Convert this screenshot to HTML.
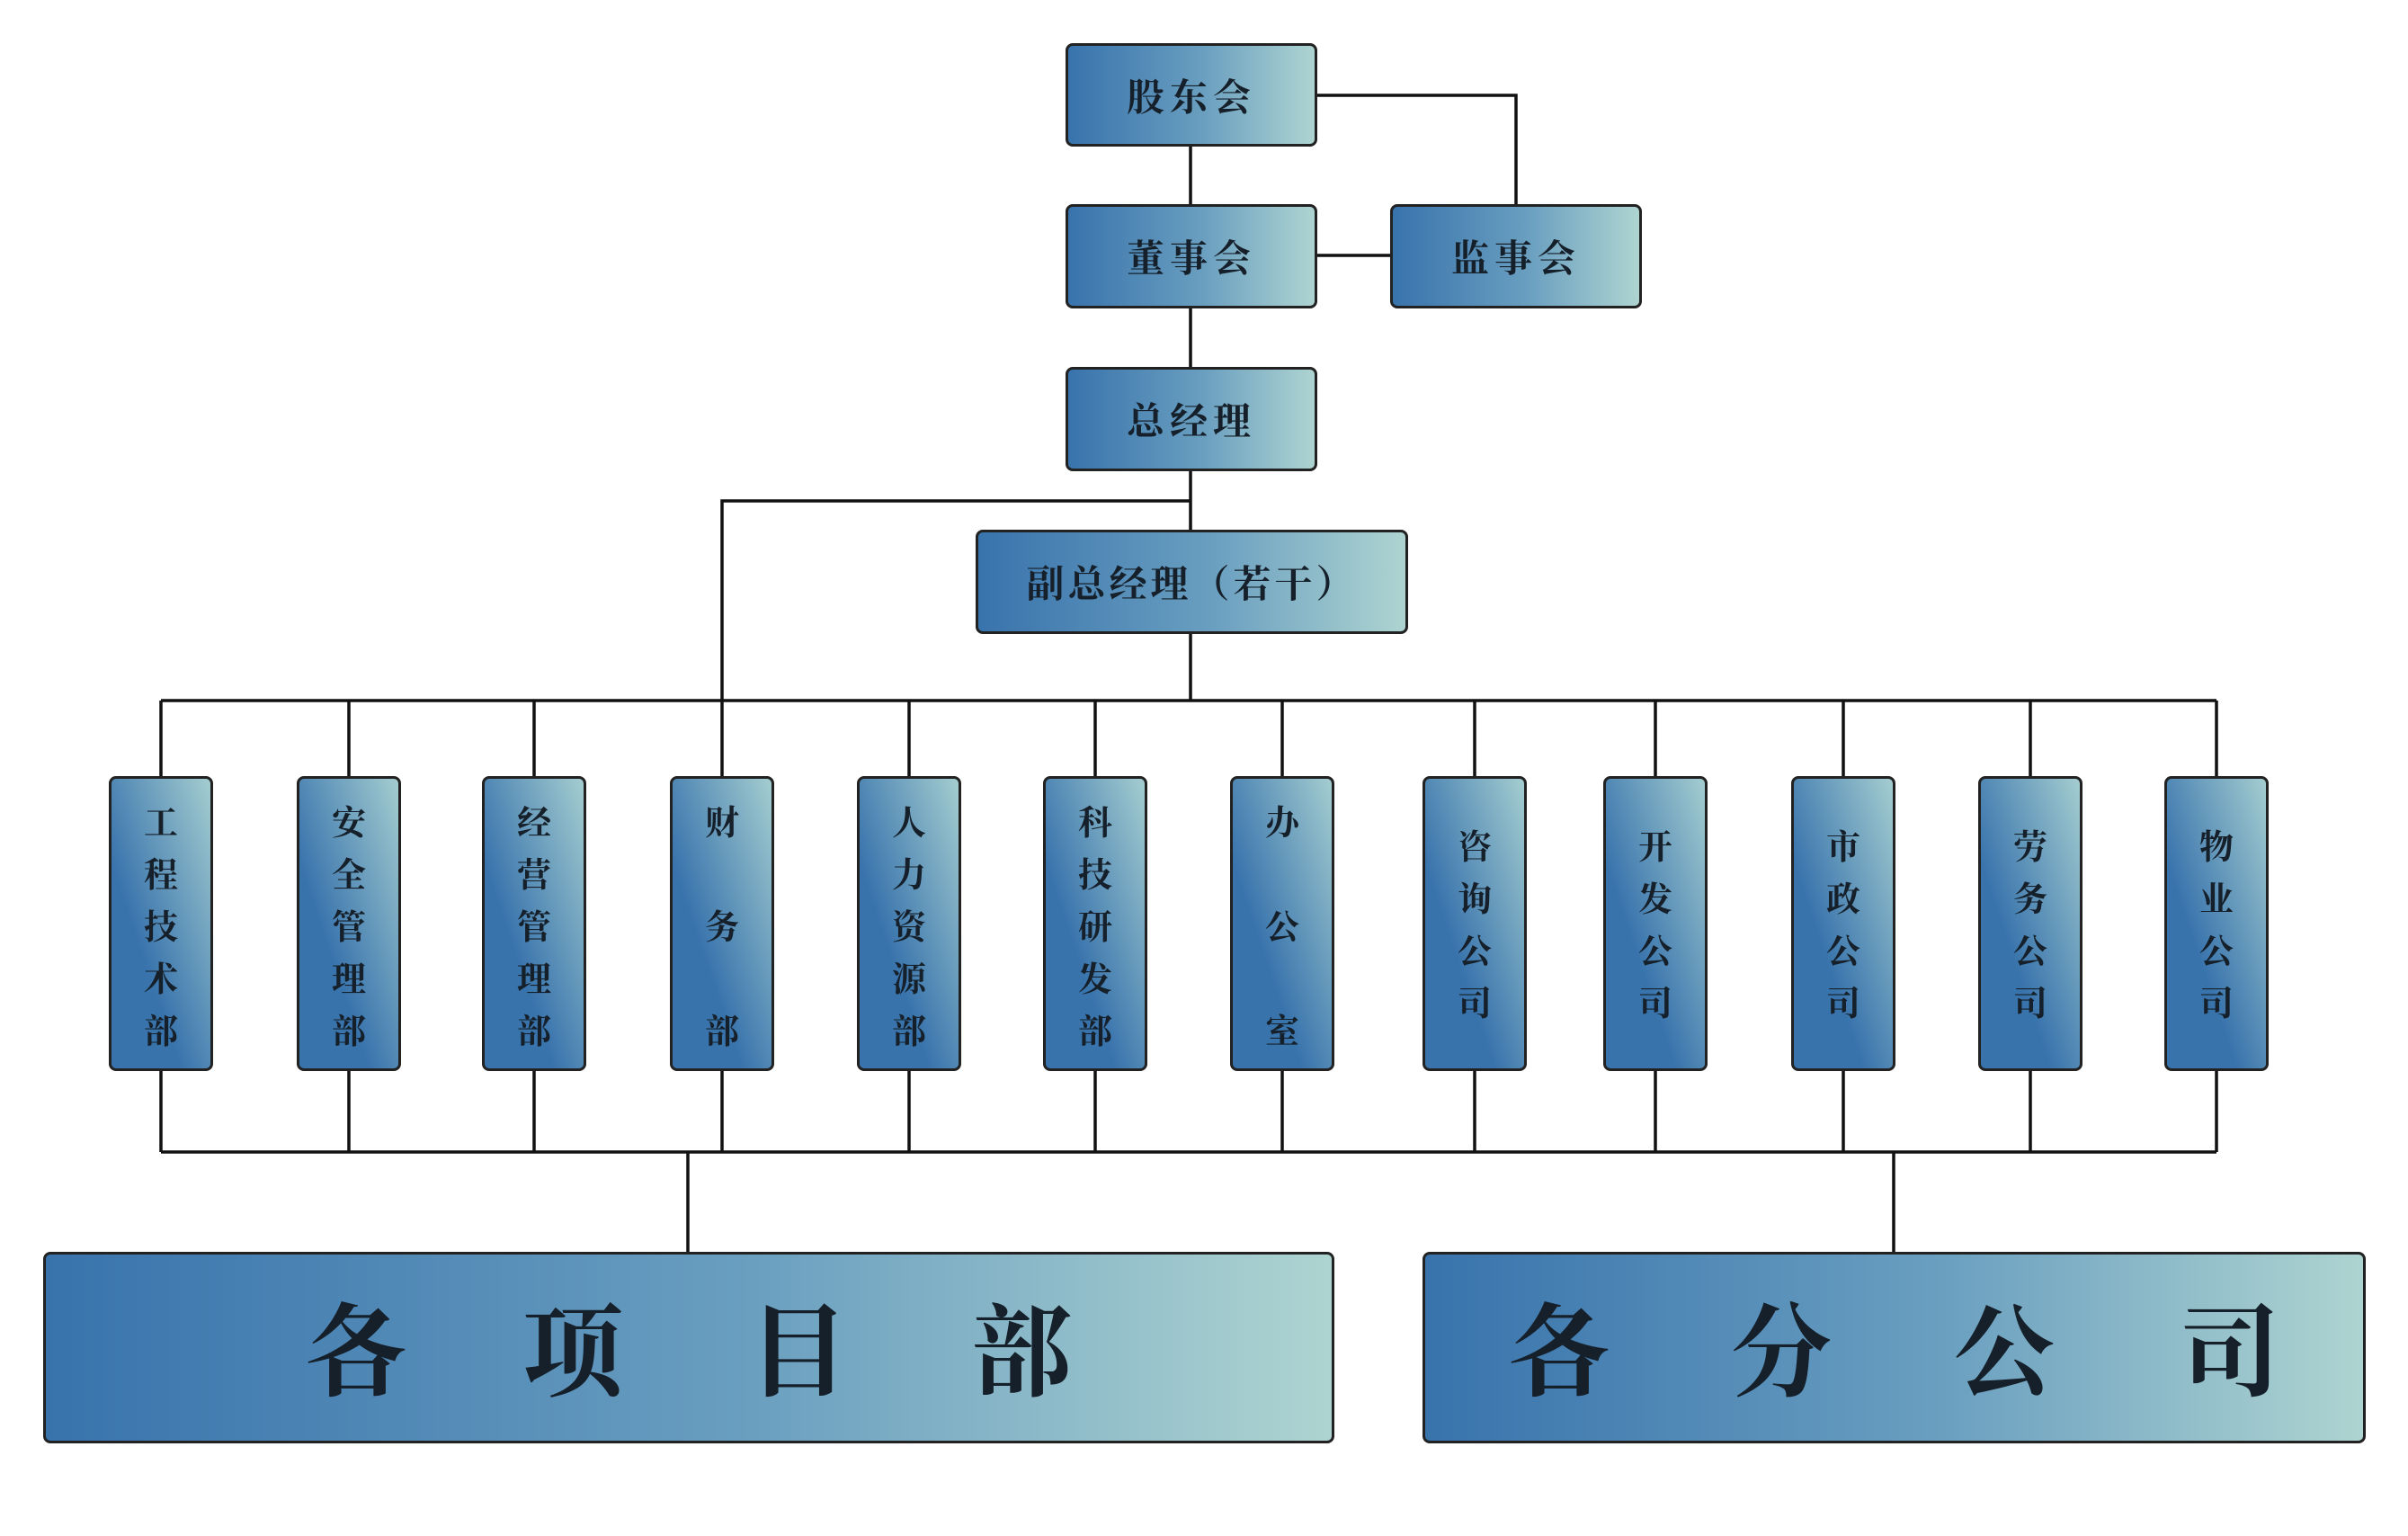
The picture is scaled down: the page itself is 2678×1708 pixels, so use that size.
<!DOCTYPE html>
<html><head><meta charset="utf-8"><style>
body{margin:0;width:2678px;height:1708px;background:#fff;position:relative;overflow:hidden;font-family:"Liberation Serif","Noto Serif CJK SC",serif;}
.b{position:absolute;box-sizing:border-box;border:3px solid #222;border-radius:8px;background:linear-gradient(to right,#3873ac,#6a9fc0 55%,#aed4d1);color:#16202a;font-weight:bold;display:flex;align-items:center;justify-content:center;}
.t{font-size:42px;letter-spacing:6px;}
.d{position:absolute;box-sizing:border-box;border:3px solid #222;border-radius:8px;background:linear-gradient(to top right,#3873ac 35%,#a4cdd0);width:116px;height:328px;top:863px;}
.c{position:absolute;left:0;width:110px;text-align:center;font-size:38px;font-weight:bold;color:#16202a;line-height:44px;margin-top:-8px;}
.big{position:absolute;font-size:112px;font-weight:bold;color:#16202a;line-height:120px;top:1446px !important;}
</style></head><body>
<svg width="2678" height="1708" style="position:absolute;left:0;top:0" fill="none" stroke="#111" stroke-width="3.5">
<path d="M1324 162V227M1324 342V408M1324 523V589M1464 106H1686V227M1464 284H1546M1324 557H803V779M1324 704V779M179 779H2465"/>
<path d="M179 779V863M388 779V863M594 779V863M803 779V863M1011 779V863M1218 779V863M1426 779V863M1640 779V863M1841 779V863M2050 779V863M2258 779V863M2465 779V863"/>
<path d="M179 1190V1281M388 1190V1281M594 1190V1281M803 1190V1281M1011 1190V1281M1218 1190V1281M1426 1190V1281M1640 1190V1281M1841 1190V1281M2050 1190V1281M2258 1190V1281M2465 1190V1281M179 1281H2465M765 1281V1392M2106 1281V1392"/>
</svg>
<div class="b t" style="left:1185px;top:48px;width:280px;height:115px">股东会</div>
<div class="b t" style="left:1185px;top:227px;width:280px;height:116px">董事会</div>
<div class="b t" style="left:1546px;top:227px;width:280px;height:116px">监事会</div>
<div class="b t" style="left:1185px;top:408px;width:280px;height:116px">总经理</div>
<div class="b t" style="left:1085px;top:589px;width:481px;height:116px;letter-spacing:4px">副总经理（若干）</div>

<div class="d" style="left:121px"><div class="c" style="top:36px">工</div><div class="c" style="top:94px">程</div><div class="c" style="top:152px">技</div><div class="c" style="top:210px">术</div><div class="c" style="top:268px">部</div></div>
<div class="d" style="left:330px"><div class="c" style="top:36px">安</div><div class="c" style="top:94px">全</div><div class="c" style="top:152px">管</div><div class="c" style="top:210px">理</div><div class="c" style="top:268px">部</div></div>
<div class="d" style="left:536px"><div class="c" style="top:36px">经</div><div class="c" style="top:94px">营</div><div class="c" style="top:152px">管</div><div class="c" style="top:210px">理</div><div class="c" style="top:268px">部</div></div>
<div class="d" style="left:745px"><div class="c" style="top:36px">财</div><div class="c" style="top:152px">务</div><div class="c" style="top:268px">部</div></div>
<div class="d" style="left:953px"><div class="c" style="top:36px">人</div><div class="c" style="top:94px">力</div><div class="c" style="top:152px">资</div><div class="c" style="top:210px">源</div><div class="c" style="top:268px">部</div></div>
<div class="d" style="left:1160px"><div class="c" style="top:36px">科</div><div class="c" style="top:94px">技</div><div class="c" style="top:152px">研</div><div class="c" style="top:210px">发</div><div class="c" style="top:268px">部</div></div>
<div class="d" style="left:1368px"><div class="c" style="top:36px">办</div><div class="c" style="top:152px">公</div><div class="c" style="top:268px">室</div></div>
<div class="d" style="left:1582px"><div class="c" style="top:63px">咨</div><div class="c" style="top:121px">询</div><div class="c" style="top:179px">公</div><div class="c" style="top:237px">司</div></div>
<div class="d" style="left:1783px"><div class="c" style="top:63px">开</div><div class="c" style="top:121px">发</div><div class="c" style="top:179px">公</div><div class="c" style="top:237px">司</div></div>
<div class="d" style="left:1992px"><div class="c" style="top:63px">市</div><div class="c" style="top:121px">政</div><div class="c" style="top:179px">公</div><div class="c" style="top:237px">司</div></div>
<div class="d" style="left:2200px"><div class="c" style="top:63px">劳</div><div class="c" style="top:121px">务</div><div class="c" style="top:179px">公</div><div class="c" style="top:237px">司</div></div>
<div class="d" style="left:2407px"><div class="c" style="top:63px">物</div><div class="c" style="top:121px">业</div><div class="c" style="top:179px">公</div><div class="c" style="top:237px">司</div></div>

<div class="b" style="left:48px;top:1392px;width:1436px;height:213px"></div>
<div class="b" style="left:1582px;top:1392px;width:1049px;height:213px"></div>
<div class="big" style="left:340px">各</div>
<div class="big" style="left:581px">项</div>
<div class="big" style="left:832px">目</div>
<div class="big" style="left:1080px">部</div>
<div class="big" style="left:1678px">各</div>
<div class="big" style="left:1925px">分</div>
<div class="big" style="left:2173px">公</div>
<div class="big" style="left:2424px">司</div>
</body></html>
